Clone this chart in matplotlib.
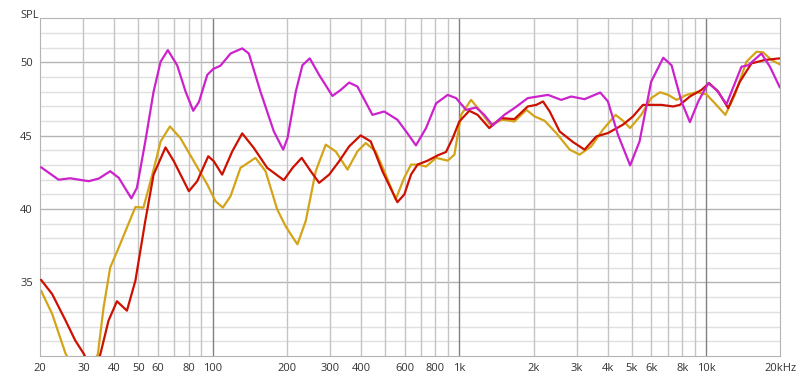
import numpy as np
import matplotlib.pyplot as plt
from matplotlib.ticker import FixedLocator, NullFormatter

# magenta trace
freq_m = [20.2, 23.8, 26.5, 31.5, 34.6, 38.5, 41.7, 46.9, 49.4, 53.4, 57.7, 61.6, 65.9, 71.9,
          77.8, 83.5, 88.1, 95.2, 100.7, 107.7, 118.3, 131.9, 140.3, 156.4, 177.1, 193.3, 201.3,
          217.4, 231.3, 247.7, 270.3, 306, 330.7, 357.6, 386.4, 444.5, 495.9, 561, 615, 667,
          733, 805, 897, 970, 1065, 1169, 1262, 1365, 1521, 1671, 1892, 2286, 2588, 2839, 3215,
          3722, 4000, 4390, 4920, 5370, 5985, 6700, 7240, 7940, 8590, 9290, 10190, 11010,
          12090, 13900, 14800, 16750, 18120, 19900]
spl_m = [42.85, 42.0, 42.1, 41.9, 42.08, 42.58, 42.13, 40.73, 41.45, 44.6, 48.0, 50.04, 50.83, 49.8,
         48.0, 46.7, 47.3, 49.14, 49.55, 49.77, 50.6, 50.95, 50.6, 48.0, 45.3, 44.05, 44.84,
         48.0, 49.8, 50.27, 49.14, 47.71, 48.12, 48.62, 48.35, 46.42, 46.65, 46.09, 45.18, 44.34,
         45.52, 47.2, 47.78, 47.56, 46.76, 46.92, 46.42, 45.7, 46.42, 46.88, 47.56, 47.78, 47.44, 47.67, 47.49,
         47.94, 47.33, 45.07, 42.98, 44.6, 48.68, 50.31, 49.8, 47.33, 45.93, 47.33, 48.58, 48.12,
         47.15, 49.7, 49.8, 50.6, 49.7, 48.28]

# red trace
freq_r = [20.2, 22.4, 25.4, 27.8, 30.1, 32.5, 35.1, 37.9, 41.0, 45.0, 48.7, 53.4, 57.7, 64.5,
          69.7, 80.2, 86.7, 96.1, 101.2, 109.4, 120.2, 131.9, 146.9, 166.5, 194.4, 210.8, 229.8,
          250, 270.3, 296.9, 325.8, 357.6, 398, 437.5, 488, 561, 598.6, 637, 677, 744, 817, 883,
          940, 1000, 1097, 1186, 1322, 1475, 1671, 1892, 2050, 2183, 2323, 2548, 2885, 3215,
          3589, 4000, 4600, 5050, 5544, 5985, 6590, 7350, 7820, 8590, 9570, 10280, 11190,
          12280, 13690, 15260, 17300, 19870]
spl_r = [35.18, 34.21, 32.4, 31.04, 30.14, 28.8, 30.1, 32.4, 33.72, 33.08, 35.12, 39.19, 42.35, 44.2,
         43.26, 41.22, 41.9, 43.6, 43.26, 42.35, 43.93, 45.16, 44.17, 42.81, 41.97, 42.8, 43.49,
         42.58, 41.79, 42.35, 43.26, 44.27, 45.02, 44.61, 42.58, 40.47, 41.0, 42.35, 43.03, 43.3, 43.66, 43.89,
         44.84, 45.97, 46.7, 46.42, 45.52, 46.2, 46.13, 46.99, 47.1, 47.33, 46.65, 45.29, 44.57, 44.05,
         44.95, 45.18, 45.75, 46.31, 47.1, 47.1, 47.1, 46.99, 47.1, 47.67, 48.12, 48.58, 48.0,
         46.88, 48.68, 49.93, 50.16, 50.27]

# gold trace
freq_g = [20.2, 22.4, 25.4, 29.5, 34.3, 36.2, 38.5, 41.7, 45.0, 48.7, 52.5, 57.5, 61.6, 67.2,
          74.1, 84, 95.2, 102.8, 110.1, 118.3, 129.8, 149.3, 164, 182.8, 197.5, 207.5, 220.8,
          238.6, 261.9, 287.5, 315.5, 352.2, 386.4, 417.7, 458, 503, 552, 598, 637, 677, 733,
          805, 897, 955, 1016, 1115, 1205, 1334, 1497, 1671, 1870, 2018, 2215, 2470, 2800,
          3070, 3422, 3815, 4295, 4600, 4920, 5455, 5985, 6500, 7020, 7590, 8320, 9140, 10000,
          10830, 11960, 13060, 14560, 15990, 17020, 18390, 19870]
spl_g = [34.44, 32.86, 30.14, 28.3, 30.1, 33.31, 36.02, 37.38, 38.74, 40.14, 40.1, 42.58, 44.6, 45.63,
         44.84, 43.26, 41.68, 40.54, 40.1, 40.88, 42.81, 43.49, 42.58, 39.98, 38.85, 38.28, 37.6,
         39.19, 42.58, 44.39, 43.93, 42.69, 43.93, 44.5, 43.93, 42.35, 40.66, 42.13, 43.03, 43.03, 42.9,
         43.49, 43.3, 43.71, 46.42, 47.44, 46.76, 45.75, 46.09, 45.97, 46.76, 46.31, 46.02, 45.18, 44.05,
         43.71, 44.27, 45.41, 46.42, 46.02, 45.52, 46.42, 47.56, 47.96, 47.78, 47.44, 47.78, 47.96, 47.83,
         47.22, 46.42, 47.78, 50.04, 50.72, 50.68, 50.16, 49.86]

x_ticks = [20, 30, 40, 50, 60, 80, 100, 200, 300, 400, 600, 800, 1000, 2000, 3000, 4000,
           5000, 6000, 8000, 10000, 20000]
x_labels = ["20", "30", "40", "50", "60", "80", "100", "200", "300", "400", "600", "800", "1k",
            "2k", "3k", "4k", "5k", "6k", "8k", "10k", "20kHz"]
y_ticks = [35, 40, 45, 50]

plt.rcParams['font.family'] = ['Open Sans', 'DejaVu Sans']

fig = plt.figure(figsize=(8, 3.81), dpi=100)
ax = fig.add_axes([0.05, 0.066, 0.9256, 0.886])

# grid: every 1 dB light, every 5 dB darker
for v in range(31, 53):
    ax.axhline(v, color='#e0e0e0' if v % 5 else '#b4b4b4', lw=1, zorder=0)
grid_f = []
for dec in [10, 100, 1000, 10000]:
    for k in range(1, 10):
        f = dec * k
        if 20 < f < 20000:
            grid_f.append(f)
for f in grid_f:
    dark = f in (100, 1000, 10000)
    ax.axvline(f, color='#808080' if dark else '#c4c4c4', lw=1, zorder=0)

line_kw = dict(lw=1.6, solid_joinstyle='round', solid_capstyle='round')
ax.plot(freq_g, spl_g, color='#d4a418', zorder=2, **line_kw)
ax.plot(freq_r, spl_r, color='#cc1100', zorder=3, **line_kw)
ax.plot(freq_m, spl_m, color='#cc22cc', zorder=4, **line_kw)

ax.set_xscale('log')
ax.set_xlim(20, 20000)
ax.set_ylim(30, 53)
ax.xaxis.set_major_locator(FixedLocator(x_ticks))
ax.xaxis.set_minor_locator(FixedLocator([]))
ax.xaxis.set_minor_formatter(NullFormatter())
ax.set_xticklabels(x_labels)
ax.set_yticks(y_ticks)
ax.tick_params(length=0, labelsize=8, colors='#333333', pad=5)
for s in ax.spines.values():
    s.set_color('#b4b4b4')

fig.text(0.025, 0.975, "SPL", fontsize=8, color='#333333', va='top')

fig.savefig("out.png", dpi=100)
